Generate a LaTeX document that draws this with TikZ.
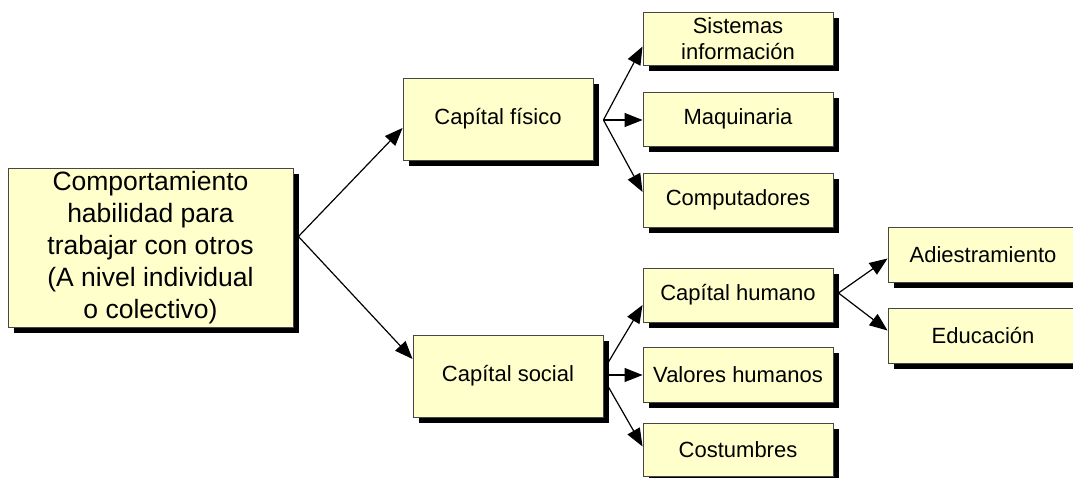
\documentclass[tikz,border=0pt]{standalone}
\usepackage{fontspec}
\setmainfont{Liberation Sans}
\usetikzlibrary{arrows.meta,shadows,calc}
\definecolor{boxfill}{RGB}{255,255,204}
\definecolor{boxline}{RGB}{70,70,70}

\begin{document}
\begin{tikzpicture}[x=1pt,y=-1pt,line width=1.2pt]

     \tikzstyle{box}=[rectangle,draw=boxline,line width=0.9pt,fill=boxfill,
        drop shadow={shadow xshift=6pt,shadow yshift=-6pt,fill=black,opacity=1},
        minimum width=190pt,minimum height=54pt,inner sep=0pt,align=center,
        font=\fontsize{22}{26}\selectfont]
     \tikzstyle{bigbox}=[box,minimum width=285pt,minimum height=159pt,
        font=\fontsize{26.5}{32}\selectfont]
     \tikzstyle{arr}=[-{Triangle[length=18pt,width=14pt]}]

      \clip (0,0) rectangle (1073,477);

      \begin{scope}
         \node[bigbox] (cmp) at (150.5,247.5) {Comportamiento\\habilidad para\\trabajar con otros\\(A nivel individual\\o colectivo)};

         \node[box,minimum height=82pt] (cf) at (498,119) {Capítal físico};
         \node[box,minimum height=82pt] (cs) at (508,376) {Capítal social};

         \node[box,minimum height=53pt] (sis) at (738,38.5) {Sistemas\\información};
         \node[box] (maq) at (738,119) {Maquinaria};
         \node[box] (comp) at (738,200) {Computadores};

         \node[box] (ch) at (738,295) {Capítal humano};
         \node[box,minimum height=55pt] (vh) at (738,374.5) {Valores humanos};
         \node[box,minimum height=53pt] (cos) at (738,449.5) {Costumbres};

         \node[box,minimum height=55pt] (adi) at (983,254.5) {Adiestramiento};
         \node[box,minimum height=55pt] (edu) at (983,335.5) {Educación};

         \coordinate (cmpR) at ($(cmp.east)+(5,-11)$);
         \coordinate (cfR) at ($(cf.east)+(10,1)$);
         \coordinate (csU) at ($(cs.east)+(5,-14)$);
         \coordinate (csM) at ($(cs.east)+(5,-1)$);
         \coordinate (csD) at ($(cs.east)+(5,11)$);
         \coordinate (chR) at ($(ch.east)+(5,-2)$);

         \draw[arr] (cmpR) to ($(cf.west)+(0,9)$);
         \draw[arr] (cmpR) to ($(cs.west)+(0,-17)$);

         \draw[arr] (cfR) to ($(sis.west)+(0,8)$);
         \draw[arr] (cfR) to (maq.west |- cfR);
         \draw[arr] (cfR) to ($(comp.west)+(0,-8)$);

         \draw[arr] (csU) to ($(ch.west)+(0,10)$);
         \draw[arr] (csM) to (vh.west |- csM);
         \draw[arr] (csD) to ($(cos.west)+(0,-3)$);

         \draw[arr] (chR) to ($(adi.west)+(0,4)$);
         \draw[arr] (chR) to ($(edu.west)+(0,-5)$);

      \end{scope}
\end{tikzpicture}
\end{document}
